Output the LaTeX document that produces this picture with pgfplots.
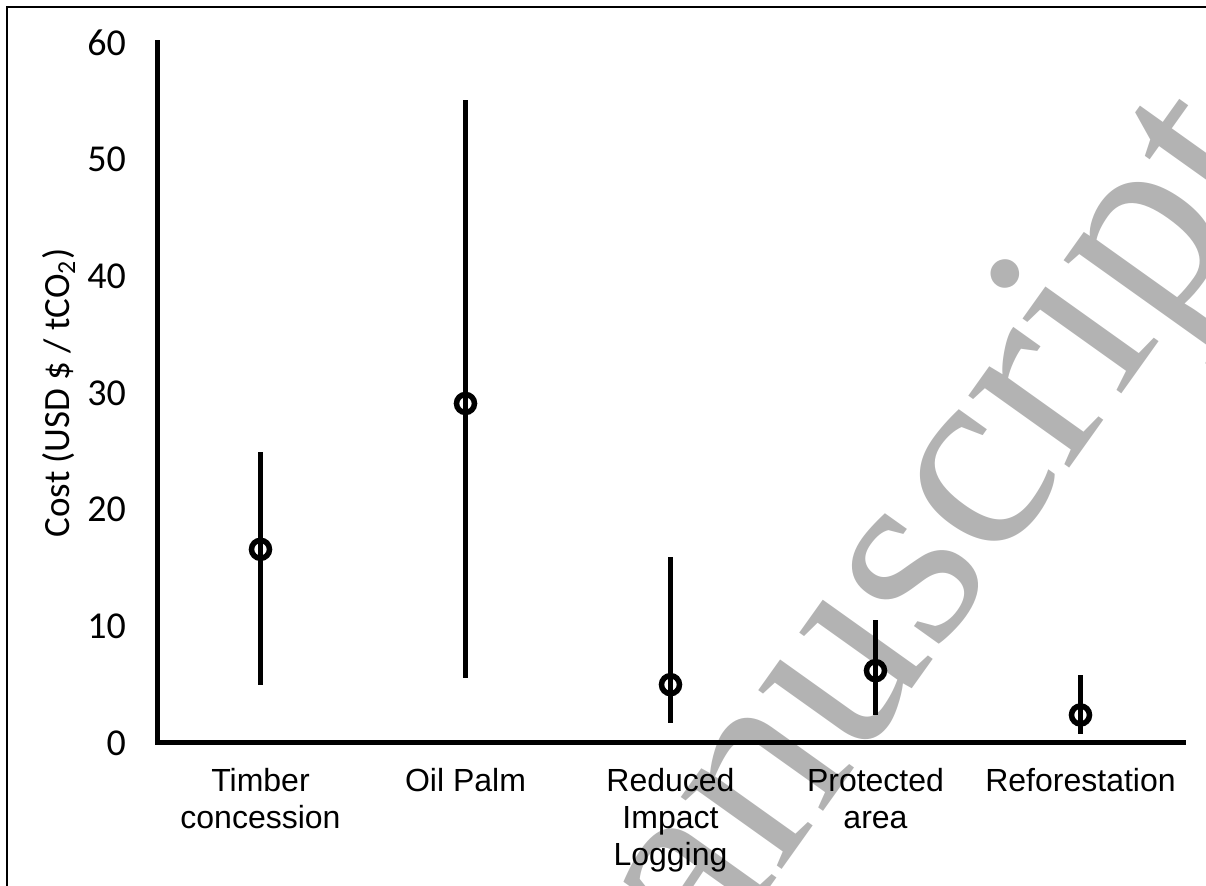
\documentclass[border=0pt]{standalone}
\usepackage{fontspec}
\setmainfont{Carlito}
\newfontfamily\arialf{Liberation Sans}
\newfontfamily\wmfont{Liberation Serif}
\usepackage{pgfplots}
\pgfplotsset{compat=1.18}
\usepackage{pgfplotstable}
\definecolor{wmgray}{HTML}{B3B3B3}
\pgfplotstableread{
x y ep em
0 16.6 8.3 11.6
1 29.1 26.0 23.5
2 5.0 10.9 3.3
3 6.2 4.3 3.8
4 2.4 3.4 1.6
}\costdata
\begin{document}
\begin{tikzpicture}
\useasboundingbox (0,0) rectangle (603pt,443pt);
\node[rotate=54.5, text=wmgray, font=\fontsize{135}{135}\wmfont, inner sep=0pt] at (443pt,133pt) {manuscript};
\draw[line width=1pt] (3.5pt,-2pt) -- (3.5pt,439.5pt) -- (605pt,439.5pt);
\begin{axis}[
  at={(79pt,71.5pt)}, anchor=south west,
  scale only axis, width=512.5pt, height=350pt,
  xmin=-0.5, xmax=4.5, ymin=0, ymax=60,
  axis lines*=left,
  axis line style={-, line width=2.5pt, line cap=rect},
  major tick length=0pt,
  xtick={0,1,2,3,4},
  xticklabels={Timber\\concession, Oil Palm, Reduced\\Impact\\Logging, Protected\\area, Reforestation},
  xticklabel style={align=center, font=\fontsize{16}{18.5}\selectfont\arialf, yshift=-9pt},
  ytick={0,10,20,30,40,50,60},
  /pgf/number format/assume math mode=true,
  yticklabel style={font=\fontsize{19}{19}\selectfont, xshift=-12.5pt},
  ylabel={Cost (USD \$ / tCO\textsubscript{2})},
  every axis y label/.style={at={(axis description cs:-0.0966,0.5)}, rotate=90, anchor=center, font=\fontsize{18.5}{18.5}\selectfont},
  clip=false,
]
\addplot[only marks, mark=o, mark size=4.5pt, mark options={line width=2.75pt, black},
  error bars/.cd, y dir=both, y explicit, error mark=none,
  error bar style={line width=2.5pt, black}]
  table[x=x, y=y, y error plus=ep, y error minus=em] {\costdata};
\end{axis}
\end{tikzpicture}
\end{document}
